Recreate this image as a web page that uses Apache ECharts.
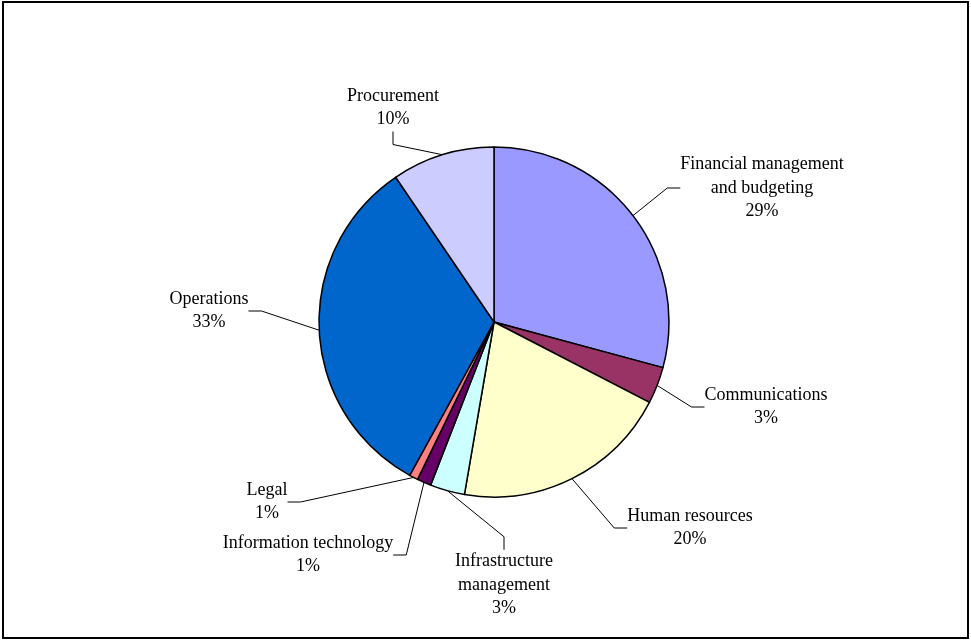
<!DOCTYPE html>
<html>
<head>
<meta charset="utf-8">
<title>Share of requests by area</title>
<script src="https://cdn.jsdelivr.net/npm/echarts@6/dist/echarts.min.js"></script>
<style>
  html, body { margin: 0; padding: 0; background: #ffffff; }
  #chart { width: 971px; height: 640px; }
</style>
</head>
<body>
<div id="chart"></div>
<script>
// Slice names, shares and fills, clockwise from 12 o'clock
const categories = [
  'Financial management\nand budgeting',
  'Communications',
  'Human resources',
  'Infrastructure\nmanagement',
  'Information technology',
  'Legal',
  'Operations',
  'Procurement'
];
const shares = [29.2, 3.4, 20.1, 3.2, 1.3, 0.8, 32.5, 9.5];
const sliceColors = ['#9999FF', '#993366', '#FFFFCC', '#CCFFFF', '#660066', '#FF8080', '#0066CC', '#CCCCFF'];

// Where each label block is centred, and which side of it the leader line meets
const labelCenters = [[762, 188], [766, 407], [690, 528], [504, 585], [308, 555], [267, 502], [209, 311], [393, 108]];
const labelSides = ['left', 'left', 'left', 'top', 'right', 'right', 'right', 'bottom'];
const elbow = 13;

const chart = echarts.init(document.getElementById('chart'), null, { renderer: 'canvas' });

chart.setOption({
  animation: false,
  backgroundColor: '#ffffff',
  textStyle: { fontFamily: '"Liberation Serif", "Times New Roman", serif' },
  graphic: [{
    type: 'rect',
    shape: { x: 3, y: 2, width: 965, height: 636 },
    style: { fill: 'none', stroke: '#000000', lineWidth: 2 },
    silent: true
  }],
  series: [{
    type: 'pie',
    center: [494, 322],
    radius: 175,
    startAngle: 90,
    clockwise: true,
    percentPrecision: 0,
    avoidLabelOverlap: false,
    data: categories.map((name, i) => ({
      name: name,
      value: shares[i],
      itemStyle: { color: sliceColors[i] }
    })),
    itemStyle: { borderColor: '#000000', borderWidth: 1.5 },
    label: {
      show: true,
      position: 'outside',
      formatter: '{b}\n{d}%',
      color: '#000000',
      fontFamily: '"Liberation Serif", "Times New Roman", serif',
      fontSize: 18,
      lineHeight: 23.5
    },
    labelLine: {
      show: true,
      length: 15,
      length2: elbow,
      smooth: false,
      lineStyle: { color: '#000000', width: 1 }
    },
    emphasis: { disabled: true },
    labelLayout: function (params) {
      const i = params.dataIndex;
      const cx = labelCenters[i][0];
      const cy = labelCenters[i][1];
      const w = params.labelRect.width;
      const h = params.labelRect.height;
      let ax = cx, ay = cy, dx = 0, dy = 0;
      switch (labelSides[i]) {
        case 'left': ax = cx - w / 2; dx = -1; break;
        case 'right': ax = cx + w / 2; dx = 1; break;
        case 'top': ay = cy - h / 2; dy = -1; break;
        case 'bottom': ay = cy + h / 2; dy = 1; break;
      }
      const start = params.labelLinePoints ? params.labelLinePoints[0] : [ax + dx * elbow, ay + dy * elbow];
      return {
        x: cx,
        y: cy,
        align: 'center',
        verticalAlign: 'middle',
        labelLinePoints: [
          [start[0], start[1]],
          [ax + dx * elbow, ay + dy * elbow],
          [ax, ay]
        ]
      };
    }
  }]
});
</script>
</body>
</html>
